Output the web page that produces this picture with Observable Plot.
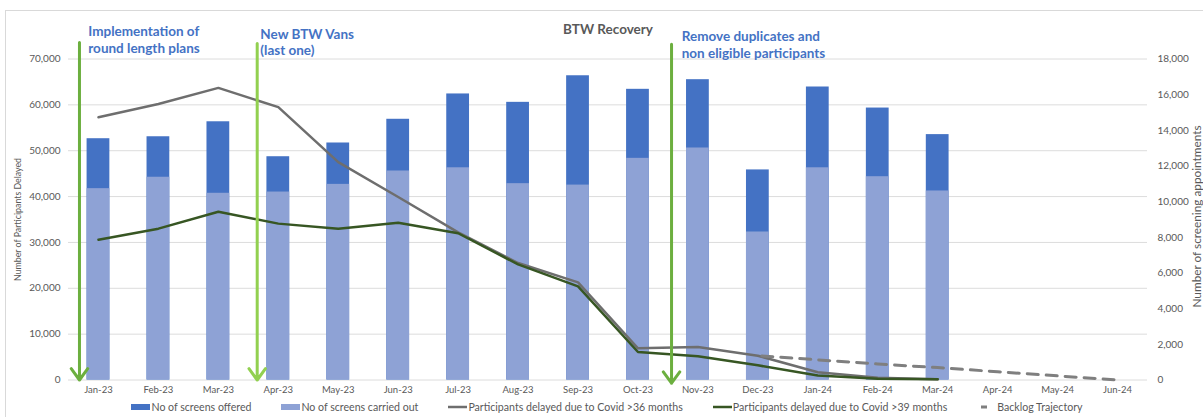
<!DOCTYPE html>
<html><head><meta charset="utf-8">
<script src="https://cdn.jsdelivr.net/npm/d3@7"></script>
<script src="https://cdn.jsdelivr.net/npm/@observablehq/plot@0.6"></script>
<style>
html,body{margin:0;padding:0;background:#fff;overflow:hidden;}
#wrap{position:relative;width:1203px;height:417px;font-family:Lato,"Open Sans",sans-serif;overflow:hidden;}
#chart{position:absolute;left:0;top:0;}
#frame{position:absolute;left:5px;top:10px;right:-2px;bottom:-2px;border-top:1px solid #d9d9d9;border-left:1px solid #d9d9d9;pointer-events:none;}
#legend{position:absolute;left:0;top:397px;width:1214px;height:19px;display:flex;justify-content:center;align-items:center;gap:30px;font-size:10.6px;color:#595959;white-space:nowrap;}
.item{display:flex;align-items:center;}
.item svg{display:block;}
</style></head><body>
<div id="wrap"><div id="chart"></div><div id="frame"></div><div id="legend"></div></div>
<script>
// ---- data ----
const months = ["Jan-23","Feb-23","Mar-23","Apr-23","May-23","Jun-23","Jul-23","Aug-23","Sep-23","Oct-23","Nov-23","Dec-23","Jan-24","Feb-24","Mar-24","Apr-24","May-24","Jun-24"];
// screening appointments (right axis)
const screensOffered   = [13530, 13640, 14480, 12520, 13290, 14620, 16040, 15570, 17060, 16300, 16840, 11780, 16430, 15250, 13760];
const screensCarriedOut = [10730, 11370, 10470, 10540, 10970, 11720, 11900, 11010, 10930, 12430, 13010, 8300, 11900, 11400, 10600];
// participants delayed (left axis)
const delayed36 = [57300, 60200, 63700, 59500, 47500, 39900, 32200, 25500, 21300, 6900, 7200, 5300, 1700, 500, 150];
const delayed39 = [30600, 33000, 36700, 34100, 33000, 34300, 32000, 25200, 20400, 6100, 5200, 3200, 1000, 260, 170];
const backlogMonths = ["Dec-23","Jan-24","Feb-24","Mar-24","Apr-24","May-24","Jun-24"];
const backlogValues = [5300, 4400, 3500, 2700, 1800, 900, 0];
// axes
const leftTicks  = [0,10000,20000,30000,40000,50000,60000,70000];
const rightTicks = [0,2000,4000,6000,8000,10000,12000,14000,16000,18000];
const leftMax = 70000, rightMax = 18000;
// annotations
const annoText = ["Implementation of\nround length plans", "New BTW Vans\n(last one)", "Remove duplicates and\nnon eligible participants"];
const annoX = [-0.17, 2.70, 9.73];
const annoY = [74300, 73700, 73200];
const arrowX = [-0.317, 2.648, 9.56];
const arrowTop = [73600, 73400, 73200];
const arrowBottom = [0, 0, -700];
const arrowColor = ["#6CAF3F", "#92D050", "#6CAF3F"];

// ---- build ----
const k = leftMax / rightMax;
const bars = screensOffered.map((v, i) => ({i, offered: v, carried: screensCarriedOut[i]}));
const s36 = delayed36.map((v, i) => ({i, v}));
const s39 = delayed39.map((v, i) => ({i, v}));
const bl = backlogMonths.map((m, j) => ({i: months.indexOf(m), v: backlogValues[j]}));
const ann = annoText.map((t, j) => ({t, x: annoX[j], y: annoY[j]}));
const arrows = arrowX.map((x, j) => ({x, y1: arrowTop[j], y2: arrowBottom[j], c: arrowColor[j]}));
const half = 0.19;
const font = "Lato, 'Open Sans', sans-serif";
const C = {offered:"#4472C4", carried:"#8EA2D5", g36:"#6e6e6e", g39:"#375623", backlog:"#7f7f7f", text:"#595959"};

const chart = Plot.plot({
  width: 1203, height: 398,
  marginLeft: 68, marginRight: 56, marginTop: 58.5, marginBottom: 18.5,
  style: {fontFamily: font, fontSize: "10px", color: C.text, background: "transparent", overflow: "visible"},
  x: {type: "linear", domain: [-0.5, months.length - 0.5]},
  y: {domain: [0, leftMax]},
  color: {type: "identity"},
  marks: [
    Plot.gridY(leftTicks, {stroke: "#dcdcdc", strokeOpacity: 1, strokeWidth: 1}),
    Plot.axisY(leftTicks, {anchor: "left", tickSize: 0, tickPadding: 8, tickFormat: d3.format(","), label: null, fill: C.text, fontSize: 10}),
    Plot.axisY(rightTicks.map(v => v * k), {anchor: "right", tickSize: 0, tickPadding: 10, tickFormat: d => d3.format(",")(Math.round(d / k)), label: null, fill: C.text, fontSize: 10}),
    Plot.axisX(d3.range(months.length), {anchor: "bottom", tickSize: 0, tickPadding: 6, tickFormat: i => months[i], label: null, fill: C.text, fontSize: 9.5}),
    Plot.rectY(bars, {x1: d => d.i - half, x2: d => d.i + half, y1: 0, y2: d => d.offered * k, fill: C.offered}),
    Plot.rectY(bars, {x1: d => d.i - half, x2: d => d.i + half, y1: 0, y2: d => d.carried * k, fill: C.carried}),
    Plot.line(s36, {x: "i", y: "v", stroke: C.g36, strokeWidth: 2.5}),
    Plot.line(s39, {x: "i", y: "v", stroke: C.g39, strokeWidth: 2.5}),
    Plot.line(bl, {x: "i", y: "v", stroke: C.backlog, strokeWidth: 3, strokeDasharray: "11,8", strokeDashoffset: -4}),
    Plot.arrow(arrows, {x1: "x", x2: "x", y1: "y1", y2: "y2", stroke: "c", strokeWidth: 3, headLength: 7, headAngle: 72}),
    Plot.text(ann, {x: "x", y: "y", text: "t", textAnchor: "start", fontSize: 13.5, fontWeight: "bold", fill: "#4472C4", lineHeight: 1.2}),
    Plot.text(["BTW Recovery"], {frameAnchor: "top", dy: -35, fontSize: 13.5, fontWeight: "bold", fill: C.text}),
    Plot.text(["Number of Participants Delayed"], {frameAnchor: "left", textAnchor: "middle", dx: -50, rotate: -90, fontSize: 8.8, fill: C.text}),
    Plot.text(["Number of screening appointments"], {frameAnchor: "right", textAnchor: "middle", dx: 50, dy: -3, rotate: -90, fontSize: 11.8, fill: C.text})
  ]
});
document.getElementById("chart").appendChild(chart);

// legend
const legendItems = [
  {label: "No of screens offered", kind: "box", color: C.offered},
  {label: "No of screens carried out", kind: "box", color: C.carried},
  {label: "Participants delayed due to Covid >36 months", kind: "line", color: C.g36},
  {label: "Participants delayed due to Covid >39 months", kind: "line", color: C.g39},
  {label: "Backlog Trajectory", kind: "dash", color: C.backlog}
];
const legend = document.getElementById("legend");
for (const it of legendItems) {
  const el = document.createElement("div");
  el.className = "item";
  let sw;
  if (it.kind === "box") sw = `<svg width="19" height="8"><rect x="0" y="1" width="19" height="6" fill="${it.color}"/></svg>`;
  else if (it.kind === "line") sw = `<svg width="19" height="8"><line x1="0" x2="19" y1="4" y2="4" stroke="${it.color}" stroke-width="2.5"/></svg>`;
  else sw = `<svg width="19" height="8"><line x1="4" x2="10" y1="4" y2="4" stroke="${it.color}" stroke-width="3"/></svg>`;
  el.innerHTML = sw + `<span style="margin-left:1px">${it.label}</span>`;
  legend.appendChild(el);
}
</script>
</body></html>
